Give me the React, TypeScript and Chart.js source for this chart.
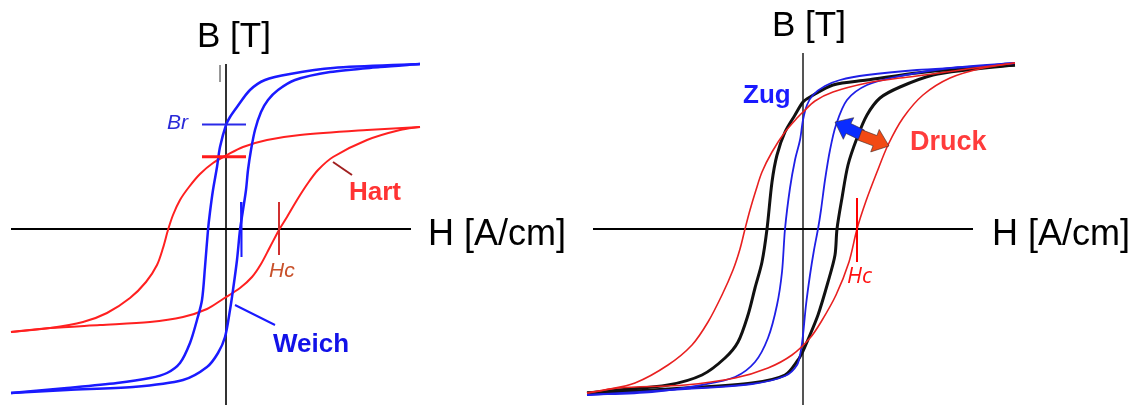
import React, { useEffect, useRef } from "react";
import { Chart, registerables } from "chart.js";

Chart.register(...registerables);

type P = [number, number]; // [H in A/cm, B in T]

// ---------- Left panel: soft (Weich) and hard (Hart) material ----------
const weichDown: P[] = [
  [19.4, 1.65], [10.7, 1.61], [6.4, 1.55], [3.9, 1.49], [2.4, 1.39], [1.1, 1.22],
  [0.4, 1.12], [0.0, 1.04], [-0.6, 0.82], [-0.9, 0.62], [-1.3, 0.39], [-1.6, 0.17],
  [-1.8, -0.01], [-2.1, -0.38], [-2.4, -0.71], [-2.9, -0.91], [-3.6, -1.14],
  [-4.6, -1.34], [-5.9, -1.44], [-7.6, -1.49], [-10.9, -1.54], [-15.9, -1.59], [-21.5, -1.64],
];
const weichUp: P[] = [
  [-21.5, -1.64], [-15.9, -1.61], [-9.3, -1.58], [-4.3, -1.51], [-1.9, -1.38],
  [-0.8, -1.24], [-0.1, -1.08], [0.4, -0.81], [0.7, -0.61], [1.1, -0.31], [1.4, -0.01],
  [1.7, 0.19], [2.0, 0.39], [2.2, 0.59], [2.5, 0.79], [2.9, 0.99], [3.5, 1.17],
  [4.2, 1.29], [5.2, 1.39], [6.9, 1.49], [10.4, 1.57], [15.4, 1.62], [19.4, 1.65],
];
const hartDown: P[] = [
  [19.4, 1.02], [14.1, 0.99], [7.4, 0.94], [4.1, 0.89], [1.7, 0.82], [0.1, 0.74],
  [-1.3, 0.66], [-2.6, 0.55], [-3.7, 0.42], [-4.6, 0.29], [-5.3, 0.14], [-5.8, -0.01],
  [-6.3, -0.19], [-6.9, -0.36], [-8.0, -0.53], [-9.6, -0.69], [-11.9, -0.84],
  [-14.3, -0.93], [-17.6, -0.99], [-21.5, -1.03],
];
const hartUp: P[] = [
  [-21.5, -1.03], [-17.6, -0.99], [-12.6, -0.96], [-7.6, -0.93], [-4.3, -0.88],
  [-1.9, -0.8], [-0.3, -0.7], [1.4, -0.59], [2.6, -0.48], [3.5, -0.35], [4.4, -0.18],
  [5.3, -0.01], [6.1, 0.12], [7.1, 0.29], [8.2, 0.46], [9.2, 0.59], [10.7, 0.72],
  [14.1, 0.89], [17.4, 0.99], [19.4, 1.02],
];
const leftHAxis: P[] = [[-21.5, 0], [18.5, 0]];
const leftBAxis: P[] = [[0, 1.65], [0, -1.8]];
const leftBrMark: P[] = [[-2.4, 1.045], [2.0, 1.045]];
const leftHartBrMark: P[] = [[-2.4, 0.723], [2.0, 0.723]];
const leftWeichHcMark: P[] = [[1.5, 0.27], [1.55, -0.28]];
const leftHartHcMark: P[] = [[5.3, 0.27], [5.3, -0.26]];
const leftStray: P[] = [[-0.6, 1.64], [-0.6, 1.47]];
const hartPointer: P[] = [[10.7, 0.67], [12.6, 0.54]];
const weichPointer: P[] = [[0.9, -0.76], [4.9, -0.96]];

// ---------- Right panel: tension (Zug), neutral, compression (Druck) ----------
const druckDown: P[] = [
  [21.2, 1.66], [16.4, 1.6], [13.0, 1.55], [9.7, 1.51], [6.4, 1.46], [3.0, 1.37],
  [1.2, 1.28], [0.0, 1.17], [-0.5, 1.12], [-1.8, 0.97], [-3.1, 0.77], [-4.1, 0.57],
  [-4.7, 0.39], [-5.3, 0.19], [-5.8, 0.0], [-6.3, -0.2], [-7.0, -0.41], [-8.1, -0.66],
  [-9.5, -0.93], [-11.1, -1.16], [-13.5, -1.36], [-16.8, -1.54], [-19.8, -1.61], [-21.6, -1.64],
];
const druckUp: P[] = [
  [-21.6, -1.64], [-18.5, -1.59], [-11.8, -1.56], [-6.8, -1.49], [-3.5, -1.39],
  [-1.1, -1.26], [0.7, -1.09], [1.8, -0.93], [3.3, -0.66], [4.6, -0.33], [5.4, 0.0],
  [6.3, 0.28], [7.4, 0.57], [8.5, 0.84], [10.0, 1.11], [12.0, 1.34], [14.7, 1.51],
  [18.0, 1.61], [21.2, 1.66],
];
const neutralDown: P[] = [
  [21.2, 1.64], [16.4, 1.61], [11.4, 1.56], [6.4, 1.49], [3.0, 1.44], [0.7, 1.32],
  [0.0, 1.27], [-0.8, 1.14], [-1.8, 0.97], [-2.6, 0.74], [-3.1, 0.47], [-3.6, 0.0],
  [-4.1, -0.33], [-4.8, -0.59], [-5.5, -0.86], [-6.5, -1.13], [-7.8, -1.29],
  [-10.1, -1.46], [-13.5, -1.56], [-18.5, -1.61], [-21.6, -1.64],
];
const neutralUp: P[] = [
  [-21.6, -1.64], [-18.5, -1.63], [-11.8, -1.59], [-5.1, -1.54], [-1.8, -1.46],
  [-0.5, -1.31], [0.0, -1.22], [0.4, -1.13], [1.5, -0.86], [2.5, -0.53], [3.2, -0.26],
  [3.4, 0.0], [3.9, 0.31], [4.5, 0.64], [5.4, 0.91], [6.4, 1.14], [7.7, 1.31],
  [9.7, 1.42], [13.0, 1.54], [16.4, 1.59], [21.2, 1.64],
];
const zugDown: P[] = [
  [21.2, 1.66], [16.4, 1.62], [11.4, 1.59], [6.4, 1.54], [3.7, 1.49], [2.2, 1.43],
  [1.0, 1.34], [0.4, 1.24], [0.0, 1.09], [-0.3, 0.89], [-0.8, 0.69], [-1.3, 0.41],
  [-1.8, 0.0], [-2.1, -0.43], [-2.6, -0.76], [-3.5, -1.09], [-4.8, -1.33],
  [-6.8, -1.48], [-10.1, -1.56], [-15.1, -1.63], [-21.6, -1.66],
];
const zugUp: P[] = [
  [-21.6, -1.66], [-11.8, -1.6], [-5.1, -1.55], [-1.8, -1.47], [-0.6, -1.36],
  [-0.2, -1.21], [0.0, -1.06], [0.3, -0.76], [0.7, -0.46], [1.1, -0.21], [1.5, 0.0],
  [1.8, 0.19], [2.2, 0.49], [2.7, 0.79], [3.3, 1.04], [4.4, 1.29], [6.4, 1.44],
  [9.7, 1.53], [14.7, 1.61], [21.2, 1.66],
];
const rightHAxis: P[] = [[-21.0, 0], [17.0, 0]];
const rightBAxis: P[] = [[0, 1.76], [0, -1.8]];
const rightHcMark: P[] = [[5.4, 0.31], [5.4, -0.33]];
const zugArrow: P[] = [[5.9, 0.94], [3.2, 1.07]];
const druckArrow: P[] = [[5.7, 0.94], [8.6, 0.83]];

// Visible ranges of the two canvases (data units)
const leftHRange: P = [-22.6, 34.1];
const rightHRange: P = [-23.6, 33.1];
const bRange: P = [-1.76, 2.29];

type Label = { text: string; h: number; b: number; font: string; color: string };
type Arrow = { pts: P[]; color: string };

const FONT = '"Liberation Sans", Arial, sans-serif';

const leftLabels: Label[] = [
  { text: "B [T]", h: -2.9, b: 1.82, font: `35px ${FONT}`, color: "#000" },
  { text: "H [A/cm]", h: 20.2, b: -0.16, font: `36px ${FONT}`, color: "#000" },
  { text: "Hart", h: 12.3, b: 0.29, font: `bold 26px ${FONT}`, color: "#ff3333" },
  { text: "Weich", h: 4.7, b: -1.23, font: `bold 26px ${FONT}`, color: "#1212e8" },
  { text: "Br", h: -5.9, b: 1.0, font: `italic 21px ${FONT}`, color: "#2a2ad8" },
  { text: "Hc", h: 4.3, b: -0.48, font: `italic 21px ${FONT}`, color: "#c8502a" },
];
const rightLabels: Label[] = [
  { text: "B [T]", h: -3.1, b: 1.93, font: `35px ${FONT}`, color: "#000" },
  { text: "H [A/cm]", h: 18.9, b: -0.16, font: `36px ${FONT}`, color: "#000" },
  { text: "Zug", h: -6.0, b: 1.26, font: `bold 26px ${FONT}`, color: "#1a1aff" },
  { text: "Druck", h: 10.7, b: 0.79, font: `bold 27px ${FONT}`, color: "#ff3c3c" },
  { text: "Hc", h: 4.4, b: -0.54, font: `italic 22px "Open Sans", ${FONT}`, color: "#ff1010" },
];

function series(pts: P[], color: string, width: number, order: number, tension = 0.3) {
  return {
    data: pts.map(([x, y]) => ({ x, y })),
    borderColor: color,
    backgroundColor: color,
    borderWidth: width,
    showLine: true,
    pointRadius: 0,
    pointHoverRadius: 0,
    fill: false,
    tension,
    order,
    clip: false as any,
  };
}

function drawArrow(ctx: CanvasRenderingContext2D, x0: number, y0: number, x1: number, y1: number, color: string) {
  const dx = x1 - x0, dy = y1 - y0;
  const L = Math.hypot(dx, dy);
  const ux = dx / L, uy = dy / L;
  const nx = -uy, ny = ux;
  const hl = 15, sw = 5.5, hw = 12;
  const bx = x1 - ux * hl, by = y1 - uy * hl;
  ctx.beginPath();
  ctx.moveTo(x0 + nx * sw, y0 + ny * sw);
  ctx.lineTo(bx + nx * sw, by + ny * sw);
  ctx.lineTo(bx + nx * hw, by + ny * hw);
  ctx.lineTo(x1, y1);
  ctx.lineTo(bx - nx * hw, by - ny * hw);
  ctx.lineTo(bx - nx * sw, by - ny * sw);
  ctx.lineTo(x0 - nx * sw, y0 - ny * sw);
  ctx.closePath();
  ctx.fillStyle = color;
  ctx.fill();
  ctx.strokeStyle = "rgba(60,40,40,0.6)";
  ctx.lineWidth = 1;
  ctx.stroke();
}

function overlay(labels: Label[], arrows: Arrow[]) {
  return {
    id: "overlay",
    afterDatasetsDraw(chart: any) {
      const { ctx } = chart;
      const x = chart.scales.x, y = chart.scales.y;
      ctx.save();
      for (const a of arrows) {
        const [p0, p1] = a.pts;
        drawArrow(ctx, x.getPixelForValue(p0[0]), y.getPixelForValue(p0[1]), x.getPixelForValue(p1[0]), y.getPixelForValue(p1[1]), a.color);
      }
      ctx.textAlign = "left";
      ctx.textBaseline = "alphabetic";
      for (const l of labels) {
        ctx.font = l.font;
        ctx.fillStyle = l.color;
        ctx.fillText(l.text, x.getPixelForValue(l.h), y.getPixelForValue(l.b));
      }
      ctx.restore();
    },
  };
}

type PanelProps = { left: number; hRange: P; datasets: any[]; labels: Label[]; arrows: Arrow[] };

function Panel({ left, hRange, datasets, labels, arrows }: PanelProps) {
  const ref = useRef<HTMLCanvasElement | null>(null);
  useEffect(() => {
    if (!ref.current) return;
    const chart = new Chart(ref.current, {
      type: "scatter",
      data: { datasets },
      options: {
        animation: false,
        responsive: false,
        maintainAspectRatio: false,
        devicePixelRatio: 1,
        layout: { padding: 0 },
        events: [],
        plugins: { legend: { display: false }, tooltip: { enabled: false } },
        scales: {
          x: { type: "linear", min: hRange[0], max: hRange[1], display: false },
          y: { type: "linear", min: bRange[0], max: bRange[1], display: false },
        },
      } as any,
      plugins: [overlay(labels, arrows)],
    });
    return () => chart.destroy();
  }, []);
  return (
    <canvas
      ref={ref}
      width={567}
      height={405}
      style={{ position: "absolute", left, top: 0, width: 567, height: 405 }}
    />
  );
}

const leftDatasets = [
  series(leftHAxis, "#000000", 2, 20, 0),
  series(leftBAxis, "#333333", 2, 20, 0),
  series(leftStray, "#888888", 1, 20, 0),
  series(hartDown, "#ff2020", 2, 5),
  series(hartUp, "#ff2020", 2, 5),
  series(weichDown, "#1a1aff", 2.5, 4),
  series(weichUp, "#1a1aff", 2.5, 4),
  series(leftBrMark, "#2a2ae8", 2, 3, 0),
  series(leftHartBrMark, "#ff1a1a", 3, 3, 0),
  series(leftWeichHcMark, "#1a1aff", 2, 3, 0),
  series(leftHartHcMark, "#d03030", 2, 3, 0),
  series(hartPointer, "#a02020", 2, 3, 0),
  series(weichPointer, "#1a1aff", 2, 3, 0),
];

const rightDatasets = [
  series(rightHAxis, "#000000", 2, 20, 0),
  series(rightBAxis, "#555555", 2, 20, 0),
  series(neutralDown, "#111111", 3, 8),
  series(neutralUp, "#111111", 3, 8),
  series(zugDown, "#1f1fe6", 1.8, 6),
  series(zugUp, "#1f1fe6", 1.8, 6),
  series(druckDown, "#e82020", 1.6, 5),
  series(druckUp, "#e82020", 1.6, 5),
  series(rightHcMark, "#ff0000", 2, 3, 0),
];

const rightArrows: Arrow[] = [
  { pts: zugArrow, color: "#0a2cff" },
  { pts: druckArrow, color: "#f24a14" },
];

export default function App() {
  return (
    <div style={{ position: "absolute", left: 0, top: 0, width: 1134, height: 405, background: "#fff" }}>
      <Panel left={0} hRange={leftHRange} datasets={leftDatasets} labels={leftLabels} arrows={[]} />
      <Panel left={567} hRange={rightHRange} datasets={rightDatasets} labels={rightLabels} arrows={rightArrows} />
    </div>
  );
}
